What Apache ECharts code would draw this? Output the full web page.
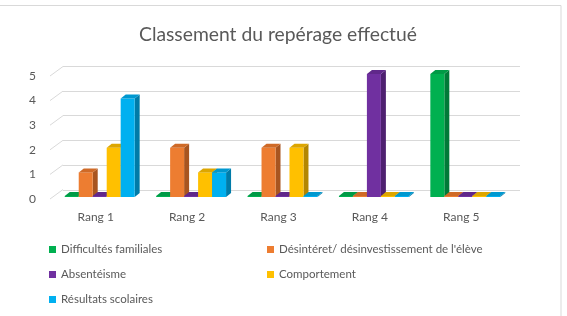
<!DOCTYPE html>
<html>
<head>
<meta charset="utf-8">
<script src="https://cdn.jsdelivr.net/npm/echarts@6/dist/echarts.min.js"></script>
<style>
  html, body { margin: 0; padding: 0; background: #fff; }
  #main { width: 567px; height: 316px; }
</style>
</head>
<body>
<div id="main"></div>
<script>
var categories = ['Rang 1', 'Rang 2', 'Rang 3', 'Rang 4', 'Rang 5'];
var seriesNames = ['Difficultés familiales', "Désintéret/ désinvestissement de l'élève", 'Absentéisme', 'Comportement', 'Résultats scolaires'];
var difficultes = [0, 0, 0, 0, 5];
var desinteret = [1, 2, 2, 0, 0];
var absenteisme = [0, 0, 0, 5, 0];
var comportement = [2, 1, 2, 0, 0];
var resultats = [4, 1, 0, 0, 0];
var yTicks = [0, 1, 2, 3, 4, 5];

var seriesValues = [difficultes, desinteret, absenteisme, comportement, resultats];
var colors = ['#00B050', '#ED7D31', '#7030A0', '#FFC000', '#00B0F0'];
var sideColors = ['#007A38', '#A85520', '#4E2070', '#B38600', '#007BA8'];
var topColors = ['#009A46', '#CF6A27', '#60288A', '#DDA600', '#0098D0'];

var myChart = echarts.init(document.getElementById('main'));

var textColor = '#595959';
var fontFam = 'Lato, "Open Sans", sans-serif';

// one 3D-looking bar: front, side and top faces
function barItem(idx) {
    return function (params, api) {
        var cat = api.value(0);
        var val = api.value(1);
        var base = api.coord([cat, 0]);
        var top = api.coord([cat, val]);
        var band = api.size([1, 0])[0];
        var bw = band * 0.153;
        var x0 = base[0] - 2.5 * bw + 4 + idx * bw;
        var x1 = x0 + bw;
        var yb = base[1] - 2;
        var yt = Math.min(top[1] - 2, yb - 1);
        var dx = 5, dy = 4;
        return {
            type: 'group',
            children: [{
                type: 'polygon',
                shape: { points: [[x1, yb], [x1 + dx, yb - dy], [x1 + dx, yt - dy], [x1, yt]] },
                style: { fill: sideColors[idx] }
            }, {
                type: 'rect',
                shape: { x: x0, y: yt, width: bw, height: yb - yt },
                style: { fill: colors[idx] }
            }, {
                type: 'polygon',
                shape: { points: [[x0, yt], [x0 + dx, yt - dy], [x1 + dx, yt - dy], [x1, yt]] },
                style: { fill: topColors[idx] }
            }]
        };
    };
}

var series = [];
for (var i = 0; i < seriesValues.length; i++) {
    var d = [];
    for (var c = 0; c < categories.length; c++) {
        d.push([c, seriesValues[i][c]]);
    }
    series.push({
        name: seriesNames[i],
        type: 'custom',
        xAxisIndex: 0,
        yAxisIndex: 0,
        itemStyle: { color: colors[i] },
        renderItem: barItem(i),
        data: d
    });
}

// slanted part of the gridlines on the left wall
series.push({
    name: 'wall',
    type: 'custom',
    xAxisIndex: 0,
    yAxisIndex: 0,
    silent: true,
    z: 1,
    renderItem: function (params, api) {
        var p = api.coord([0, api.value(0)]);
        var band = api.size([1, 0])[0];
        var left = p[0] - band / 2;
        return {
            type: 'line',
            shape: { x1: left, y1: p[1], x2: left + 13, y2: p[1] - 9.5 },
            style: { stroke: '#d9d9d9', lineWidth: 1 }
        };
    },
    data: yTicks.map(function (v) { return [v]; }),
    encode: { y: 0 }
});

var legendCommon = {
    orient: 'vertical',
    top: 238,
    itemWidth: 7,
    itemHeight: 7,
    itemGap: 12,
    icon: 'rect',
    selectedMode: false,
    textStyle: { color: textColor, fontSize: 11.5, fontFamily: fontFam, lineHeight: 13 }
};

var option = {
    animation: false,
    title: {
        text: 'Classement du repérage effectué',
        left: 134,
        top: 20,
        textStyle: { color: textColor, fontSize: 19.3, fontWeight: 'normal', fontFamily: fontFam }
    },
    graphic: [{
        type: 'rect',
        shape: { x: -2, y: 5.5, width: 563, height: 320 },
        style: { fill: 'none', stroke: '#d9d9d9', lineWidth: 1 },
        silent: true
    }],
    legend: [
        Object.assign({ left: 44, data: [seriesNames[0], seriesNames[2], seriesNames[4]] }, legendCommon),
        Object.assign({ left: 262, data: [seriesNames[1], seriesNames[3]] }, legendCommon)
    ],
    grid: [
        { left: 50, top: 76, width: 457, height: 123 },
        { left: 63, top: 66, width: 457, height: 124 }
    ],
    xAxis: [{
        type: 'category',
        gridIndex: 0,
        data: categories,
        axisLine: { show: false },
        axisTick: { show: false },
        axisLabel: { color: textColor, fontSize: 12, fontFamily: fontFam, margin: 12 }
    }, {
        type: 'category',
        gridIndex: 1,
        data: categories,
        show: false
    }],
    yAxis: [{
        type: 'value',
        gridIndex: 0,
        min: 0,
        max: 5,
        interval: 1,
        axisLine: { show: false },
        axisTick: { show: false },
        splitLine: { show: false },
        axisLabel: { color: textColor, fontSize: 12, fontFamily: fontFam, margin: 14 }
    }, {
        type: 'value',
        gridIndex: 1,
        min: 0,
        max: 5,
        interval: 1,
        axisLine: { show: false },
        axisTick: { show: false },
        axisLabel: { show: false },
        splitLine: { lineStyle: { color: '#d9d9d9', width: 1 } }
    }],
    series: series
};

myChart.setOption(option);
</script>
</body>
</html>
